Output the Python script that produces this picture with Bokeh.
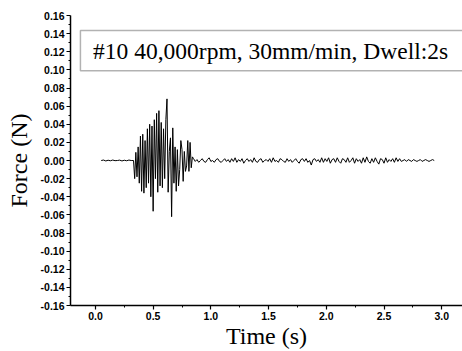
import numpy as np
from bokeh.plotting import figure
from bokeh.models import FixedTicker, NumeralTickFormatter, BoxAnnotation, Label, Range1d
from bokeh.embed import file_html
from bokeh.resources import INLINE

# ---- data (Force in N) ----
pre_start, pre_step = 0.05, 0.02
pre_force = [0.0, 0.0005, -0.0005, 0.0003, -0.0003, 0.0005, -0.0002, 0.0,
             0.0004, -0.0005, 0.0003, -0.0003, 0.0005, 0.0]

burst_start, burst_step = 0.33, 0.01
burst_force = [
    0.000, -0.020, 0.009, -0.018, 0.015, -0.025, 0.027, -0.034, 0.029, -0.036,
    0.022, -0.030, 0.035, -0.025, 0.040, -0.040, 0.038, -0.056, 0.045, -0.020,
    0.052, -0.035, 0.055, -0.028, 0.042, -0.030, 0.035, -0.020, 0.045, 0.068,
    -0.035, 0.010, 0.025, -0.062, 0.036, -0.025, 0.015, -0.034, 0.012, -0.028,
    -0.010, 0.022, 0.012, -0.023, 0.010, -0.012, -0.006, 0.022, -0.012, 0.020,
    -0.008, 0.004]

post_start, post_step = 0.85, 0.015
post_force = [
    0.002, -0.001, 0.001, -0.002, 0.000, 0.002, -0.001, -0.002, 0.001, 0.003,
    -0.001, 0.000, -0.002, 0.001, 0.002, -0.001, -0.002, 0.000, 0.002, -0.001,
    0.001, -0.002, 0.002, -0.001,
    0.003, -0.002, 0.001, -0.001, 0.002, -0.003, 0.000, 0.002, -0.001, 0.001,
    -0.002, 0.003, -0.001, -0.002, 0.001, 0.002, -0.002, 0.000, 0.001, -0.001,
    0.002, -0.002, 0.003, -0.001, 0.000, -0.002, 0.002, 0.001, -0.001, -0.002,
    0.002, -0.001, 0.001, -0.002, 0.000, 0.002, -0.001, -0.003, 0.001, 0.002,
    -0.001, 0.002, -0.002, 0.000, -0.005, 0.001, 0.002, -0.001, 0.001, -0.002,
    0.003, -0.002, 0.002, -0.001, 0.003, -0.003, 0.001, 0.002, -0.002, 0.003,
    -0.001, -0.003, 0.002, 0.001, -0.002, 0.003, -0.002, 0.000, 0.003, -0.003,
    0.002, -0.001, 0.001, -0.003, 0.003, -0.002, 0.004, -0.001, -0.003, 0.002,
    -0.002, 0.003, -0.001, -0.004, 0.002, 0.001, -0.003, 0.003, -0.002, 0.001,
    -0.001, 0.002, -0.002, 0.003, -0.001, 0.002, -0.001,
    0.000, 0.001, -0.001, 0.001, 0.000, -0.001, 0.001, 0.000, -0.001, 0.000,
    0.001, -0.001, 0.000, 0.001, 0.000, -0.001, 0.000, 0.001, 0.000]

x_ticks = [0.0, 0.5, 1.0, 1.5, 2.0, 2.5, 3.0]
x_minor = [0.25, 0.75, 1.25, 1.75, 2.25, 2.75]
y_ticks = [-0.16, -0.14, -0.12, -0.10, -0.08, -0.06, -0.04, -0.02, 0.0,
           0.02, 0.04, 0.06, 0.08, 0.10, 0.12, 0.14, 0.16]
y_minor = [-0.15, -0.13, -0.11, -0.09, -0.07, -0.05, -0.03, -0.01,
           0.01, 0.03, 0.05, 0.07, 0.09, 0.11, 0.13, 0.15]
legend_text = "#10 40,000rpm, 30mm/min, Dwell:2s"

# ---- build time series ----
t = np.concatenate([
    pre_start + pre_step * np.arange(len(pre_force)),
    burst_start + burst_step * np.arange(len(burst_force)),
    post_start + post_step * np.arange(len(post_force)),
])
f = np.array(pre_force + burst_force + post_force)

p = figure(width=462, height=351, output_backend="svg", toolbar_location=None,
           x_range=Range1d(-0.216, 3.18), y_range=Range1d(-0.16, 0.16),
           min_border_left=70, min_border_right=0, min_border_top=15,
           min_border_bottom=46)
p.outline_line_color = None
p.xgrid.visible = False
p.ygrid.visible = False
p.background_fill_color = "white"

p.line(t, f, line_color="black", line_width=1)

sans = "Liberation Sans"
serif = "Liberation Serif"
for ax in (p.xaxis[0], p.yaxis[0]):
    ax.axis_line_width = 1.5
    ax.axis_line_color = "black"
    ax.major_tick_line_color = "black"
    ax.minor_tick_line_color = "black"
    ax.major_tick_line_width = 1.2
    ax.major_tick_out = 4
    ax.major_tick_in = 0
    ax.minor_tick_out = 2
    ax.minor_tick_in = 0
    ax.major_label_text_font = sans
    ax.major_label_text_font_style = "bold"
    ax.major_label_text_font_size = "10.5px"
    ax.major_label_text_color = "black"
    ax.axis_label_text_font = serif
    ax.axis_label_text_font_style = "normal"
    ax.axis_label_text_font_size = "24px"
    ax.axis_label_text_color = "black"

p.xaxis.ticker = FixedTicker(ticks=x_ticks, minor_ticks=x_minor)
p.yaxis.ticker = FixedTicker(ticks=y_ticks, minor_ticks=y_minor)
p.xaxis.formatter = NumeralTickFormatter(format="0.0")
p.yaxis.formatter = NumeralTickFormatter(format="0.00")
p.xaxis.axis_label = "Time (s)"
p.yaxis.axis_label = "Force (N)"
p.xaxis.major_label_standoff = 2
p.xaxis.axis_label_standoff = 0
p.yaxis.major_label_standoff = 2
p.yaxis.axis_label_standoff = 6

box = BoxAnnotation(left=-0.13, right=3.3, top=0.1434, bottom=0.099,
                    fill_color=None, fill_alpha=0, line_color="black",
                    line_width=1.5)
p.add_layout(box)
p.add_layout(Label(x=-0.02, y=0.1213, text=legend_text, text_font=serif,
                   text_font_size="23.5px", text_baseline="middle",
                   text_color="black"))

open("out.html", "w").write(file_html(p, INLINE))
